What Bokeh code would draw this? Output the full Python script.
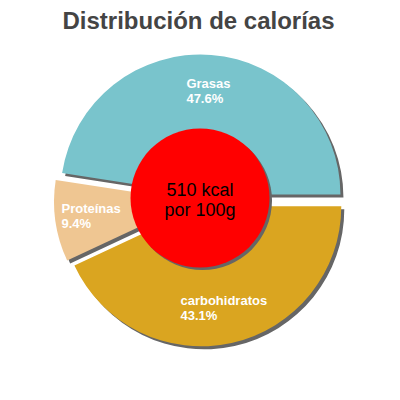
import numpy as np
from bokeh.plotting import figure
from bokeh.models import Range1d, ColumnDataSource
from bokeh.core.properties import value
from bokeh.embed import file_html
from bokeh.resources import INLINE

# ---- data ----
categories = ["Grasas", "Proteínas", "carbohidratos"]
percentages = [47.6, 9.4, 43.1]
pct_labels = ["47.6%", "9.4%", "43.1%"]
colors = ["#79c4cc", "#efc692", "#daa520"]
title_text = "Distribución de calorías"
energy_lines = ["510 kcal", "por 100g"]

# ---- geometry (page pixels; data y = 400 - page y) ----
W = H = 384
cx, cy = 199.5, 400 - 200.0
R = 140.0
explode = 6.0
label_r = 104.0
shadow_dx, shadow_dy = 3.0, -3.0
inner_cx, inner_cy, inner_r = 199.5, 400 - 197.5, 69.5

vals = np.array(percentages, dtype=float)
frac = vals / vals.sum()
ends = np.cumsum(frac) * 2 * np.pi
starts = ends - frac * 2 * np.pi
mids = (starts + ends) / 2
xs = cx + explode * np.cos(mids)
ys = cy + explode * np.sin(mids)
lx = xs + label_r * np.cos(mids)
ly = ys + label_r * np.sin(mids)

src = ColumnDataSource(dict(
    x=xs, y=ys, sx=xs + shadow_dx, sy=ys + shadow_dy,
    start=starts, end=ends, color=colors,
    label=[f"{c}\n{p}" for c, p in zip(categories, pct_labels)],
    lx=lx, ly=ly,
))

p = figure(width=W, height=H, output_backend="svg", toolbar_location=None,
           x_range=Range1d(0, W), y_range=Range1d(400 - H, 400),
           min_border=0)
p.axis.visible = False
p.grid.visible = False
p.outline_line_color = None
p.background_fill_color = "white"
p.border_fill_color = "white"

# shadows
p.wedge(x="sx", y="sy", radius=R, start_angle="start", end_angle="end",
        direction="anticlock", source=src, fill_color="#666666", line_color=None)
# slices
p.wedge(x="x", y="y", radius=R, start_angle="start", end_angle="end",
        direction="anticlock", source=src, fill_color="color", line_color=None)

# centre disc
p.circle(x=[inner_cx + 2.5], y=[inner_cy - 2.5], radius=inner_r,
         fill_color="#666666", line_color=None)
p.circle(x=[inner_cx], y=[inner_cy], radius=inner_r,
         fill_color="#ff0000", line_color=None)

# slice labels
p.text(x="lx", y="ly", text="label", source=src, anchor="center",
       text_align="left", text_baseline="middle",
       text_font=value("Liberation Sans"), text_font_size="13px",
       text_font_style="bold", text_color="white", text_line_height=1.0)

# centre text
p.text(x=[inner_cx], y=[inner_cy - 1.5], text=["\n".join(energy_lines)],
       anchor="center", text_align="center", text_baseline="middle",
       text_font=value("Liberation Sans"), text_font_size="18px",
       text_color="black", text_line_height=1.0)

# title
p.text(x=[198], y=[400 - 20], text=[title_text], text_align="center",
       text_baseline="alphabetic", text_font=value("Liberation Sans"),
       text_font_size="24px", text_font_style="bold", text_color="#444444")

open("out.html", "w").write(file_html(p, INLINE))
